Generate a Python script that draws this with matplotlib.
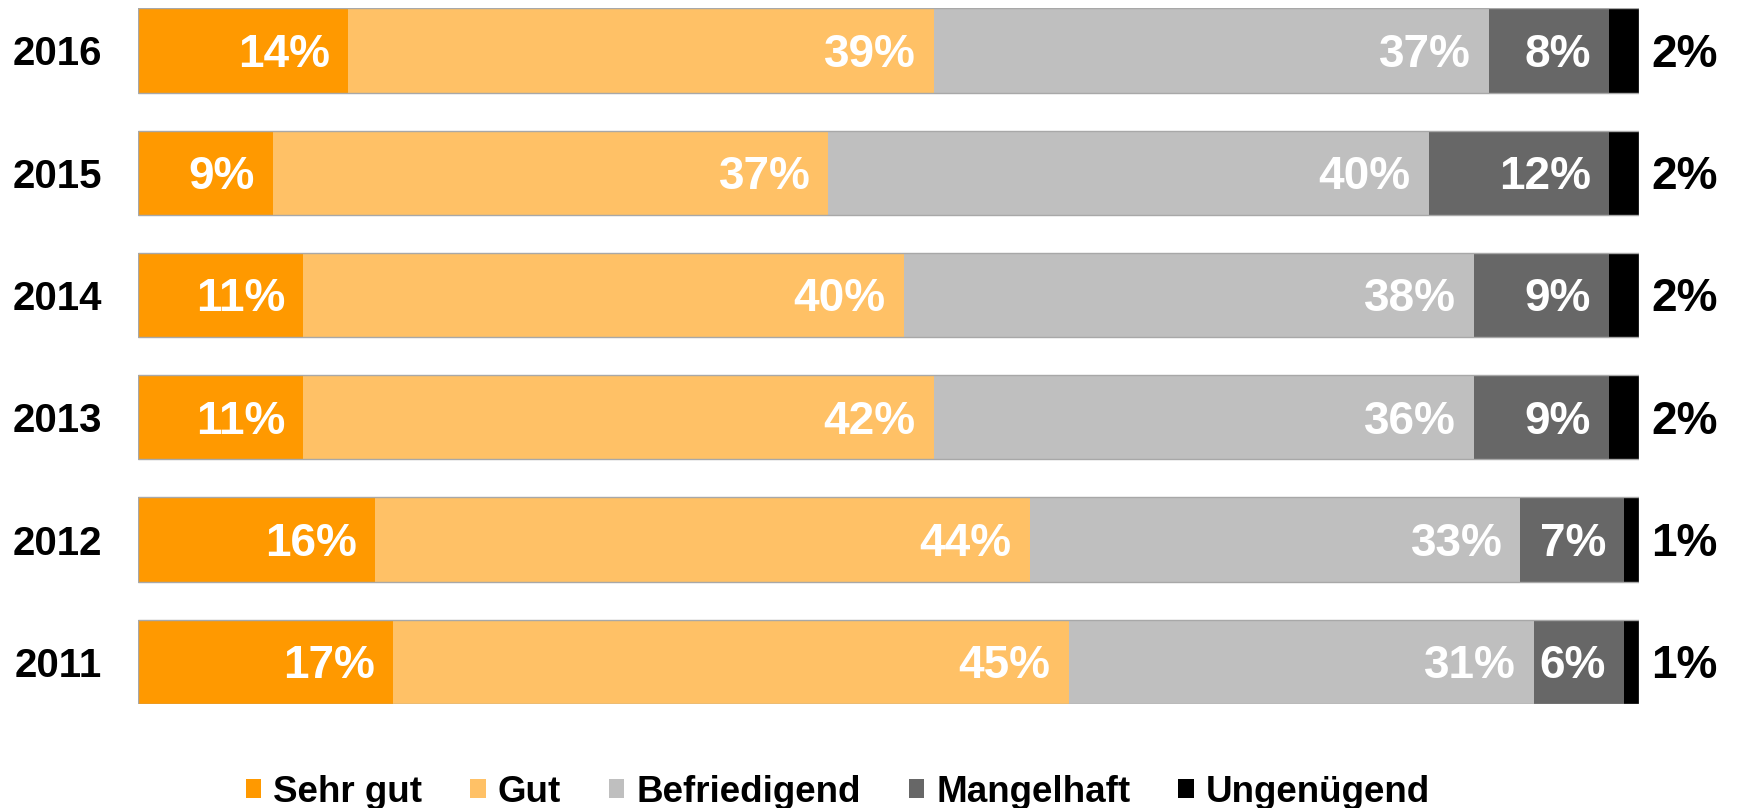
import matplotlib
matplotlib.use("Agg")
import matplotlib.pyplot as plt
import numpy as np

plt.rcParams['font.family'] = ['Liberation Sans', 'DejaVu Sans']

years = ["2016", "2015", "2014", "2013", "2012", "2011"]
categories = ["Sehr gut", "Gut", "Befriedigend", "Mangelhaft", "Ungenügend"]
sehr_gut     = [14, 9, 11, 11, 15.8, 17]
gut          = [39, 37, 40, 42, 43.6, 45]
befriedigend = [37, 40, 38, 36, 32.7, 31]
mangelhaft   = [8, 12, 9, 9, 6.9, 6]
ungenuegend  = [2, 2, 2, 2, 1.0, 1]
colors = ["#FF9900", "#FFC166", "#BFBFBF", "#676767", "#000000"]

series = [sehr_gut, gut, befriedigend, mangelhaft, ungenuegend]

fig = plt.figure(figsize=(17.39, 8.08), dpi=100)
ax = fig.add_axes([138/1739, 1-704/808, 1501/1739, (704-8.3)/808])

y = np.arange(len(years))
h = 0.69
fs = 33
base_off = -0.716 * fs / 2  # points, so that digit caps are centred on the bar
left = np.zeros(len(years))
for i, (vals, col, name) in enumerate(zip(series, colors, categories)):
    vals = np.array(vals, dtype=float)
    ax.barh(y, vals, left=left, height=h, color=col, linewidth=0, label=name)
    for j, v in enumerate(vals):
        if i < 4:
            ax.annotate(f"{v:.0f}%", xy=(left[j] + v, y[j]), xytext=(-13, base_off),
                        textcoords="offset points", ha="right", va="baseline",
                        color="white", fontsize=fs, fontweight="bold")
        else:
            ax.annotate(f"{v:.0f}%", xy=(left[j] + v, y[j]), xytext=(9, base_off),
                        textcoords="offset points", ha="left", va="baseline",
                        color="black", fontsize=fs, fontweight="bold")
    left = left + vals

ax.barh(y, left, height=h, fill=False, edgecolor="#A8A8A8", linewidth=1.0, zorder=3)

ax.set_xlim(0, 100)
ax.set_ylim(len(years) - 1 + h/2, -h/2)
ax.set_yticks(y)
ax.set_yticklabels(years, fontsize=29, fontweight="bold")
ax.tick_params(axis="y", length=0, pad=26)
ax.set_xticks([])
for s in ax.spines.values():
    s.set_visible(False)

fig.legend(loc="center", bbox_to_anchor=(838/1739, 1-792/808), ncol=5,
           frameon=False, prop={"size": 26.5, "weight": "bold"},
           handlelength=0.42, handleheight=0.42, handletextpad=0.33,
           columnspacing=1.3, borderpad=0, borderaxespad=0)

fig.savefig("out.png", dpi=100)
